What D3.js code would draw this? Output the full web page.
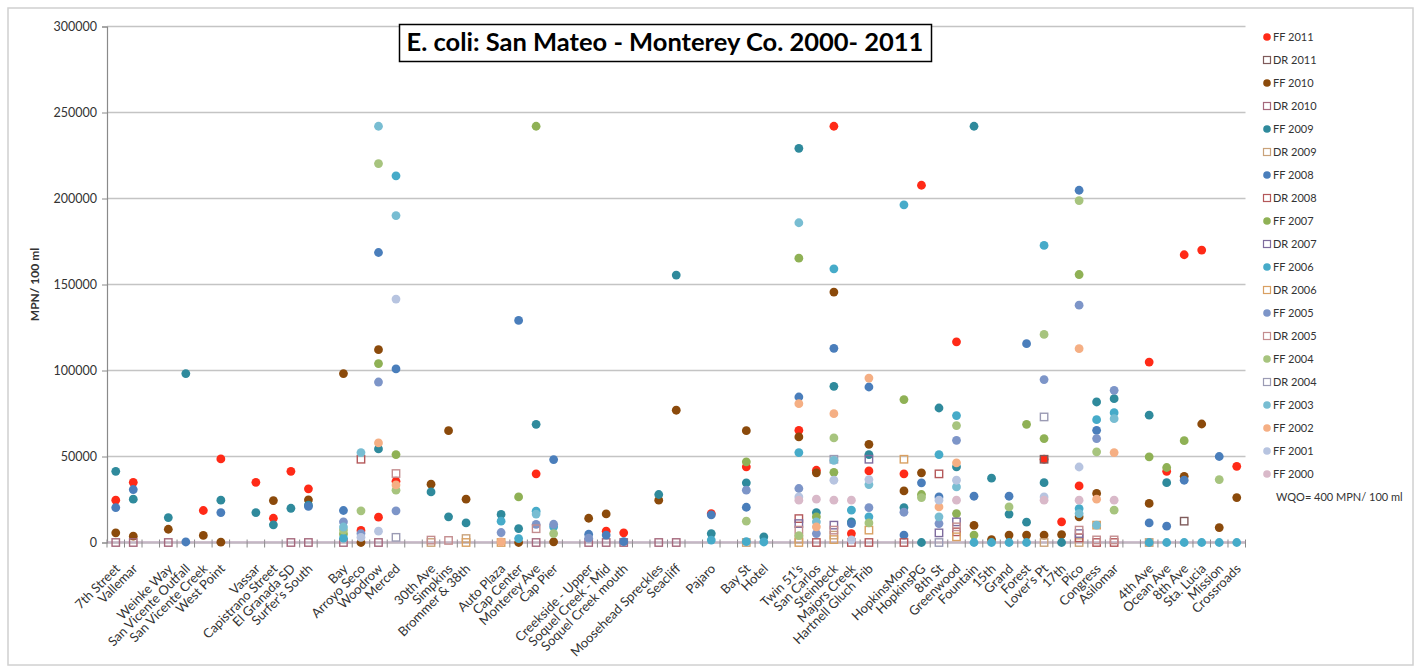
<!DOCTYPE html>
<html><head><meta charset="utf-8">
<script src="https://cdn.jsdelivr.net/npm/d3@7/dist/d3.min.js"></script>
<style>
body{margin:0;background:#fff}
svg text{font-family:Lato,"Open Sans",sans-serif;fill:#333}
</style>
</head><body>
<svg id="chart" width="1424" height="667"></svg>
<script>
const categories = ["7th Street","Vallemar","","Weinke Way","San Vicente Outfall","San Vicente Creek","West Point","",
"Vassar","Capistrano Street","El Granada SD","Surfer’s South","","Bay","Arroyo Seco","Woodrow","Merced","",
"30th Ave","Simpkins","Brommer & 38th","","Auto Plaza","Cap Center","Monterey Ave","Cap Pier","",
"Creekside - Upper","Soquel Creek - Mid","Soquel Creek mouth","","Moosehead Spreckles","Seacliff","","Pajaro","",
"Bay St","Hotel","","Twin 51’s","San Carlos","Steinbeck","Majors Creek","Hartnell Gluch Trib","",
"HopkinsMon","HopkinsPG","8th St","Greenwood","Fountain","15th","Grand","Forest","Lover’s Pt","17th","Pico","Congress","Asilomar","",
"4th Ave","Ocean Ave","8th Ave","Sta. Lucia","Mission","Crossroads"];

const yTicks = [0,50000,100000,150000,200000,250000,300000];
const title = "E. coli: San Mateo - Monterey Co. 2000- 2011";
const yLabel = "MPN/ 100 ml";
const wqoLabel = "WQO= 400 MPN/ 100 ml";
const wqoValue = 400;

const ff2011 = [["7th Street",24600],["Vallemar",35000],["San Vicente Creek",18600],["West Point",48600],["Vassar",35000],["Capistrano Street",14100],["El Granada SD",41400],["Surfer’s South",31200],["Arroyo Seco",7000],["Woodrow",14700],["Merced",35600],["Monterey Ave",39900],["Soquel Creek - Mid",6600],["Soquel Creek mouth",5600],["Pajaro",16800],["Bay St",44000],["Twin 51’s",65200],["San Carlos",42000],["Steinbeck",242000],["Majors Creek",5200],["Hartnell Gluch Trib",41600],["HopkinsMon",39900],["HopkinsPG",207700],["Greenwood",116700],["Lover’s Pt",48400],["17th",12000],["Pico",32900],["4th Ave",104900],["Ocean Ave",41400],["8th Ave",167300],["Sta. Lucia",170000],["Crossroads",44300]];
const dr2011 = [["Lover’s Pt",48400],["8th Ave",12400]];
const ff2010 = [["7th Street",5600],["Vallemar",3700],["Weinke Way",7700],["San Vicente Creek",4100],["West Point",200],["Capistrano Street",24400],["Surfer’s South",24800],["Bay",98200],["Arroyo Seco",0],["Woodrow",112100],["30th Ave",33900],["Simpkins",65000],["Brommer & 38th",25200],["Cap Center",0],["Cap Pier",400],["Creekside - Upper",14100],["Soquel Creek - Mid",16600],["Moosehead Spreckles",24600],["Seacliff",76900],["Bay St",65000],["Twin 51’s",61400],["San Carlos",40500],["Steinbeck",145600],["Hartnell Gluch Trib",57100],["HopkinsMon",30000],["HopkinsPG",40500],["Fountain",9900],["15th",1700],["Grand",4300],["Forest",4300],["Lover’s Pt",4300],["17th",4600],["Pico",14900],["Congress",28500],["4th Ave",22700],["8th Ave",38500],["Sta. Lucia",68900],["Mission",8700],["Crossroads",26100]];
const dr2010 = [["7th Street",0],["Vallemar",0],["Weinke Way",0],["El Granada SD",0],["Surfer’s South",0],["Bay",0],["Woodrow",0],["Creekside - Upper",0],["Soquel Creek - Mid",0],["Soquel Creek mouth",0],["Moosehead Spreckles",0],["Seacliff",0],["Monterey Ave",0]];
const ff2009 = [["7th Street",41400],["Vallemar",25200],["Weinke Way",14500],["San Vicente Outfall",98200],["West Point",24600],["Vassar",17400],["Capistrano Street",10300],["El Granada SD",19900],["Surfer’s South",21700],["Woodrow",54400],["30th Ave",29400],["Simpkins",14900],["Brommer & 38th",11400],["Auto Plaza",16300],["Cap Center",8100],["Monterey Ave",68700],["Moosehead Spreckles",27900],["Seacliff",155500],["Pajaro",5200],["Bay St",34700],["Hotel",3300],["Twin 51’s",229200],["San Carlos",17400],["Steinbeck",90800],["Majors Creek",12000],["Hartnell Gluch Trib",51100],["HopkinsMon",20300],["HopkinsPG",0],["8th St",78200],["Greenwood",44000],["Fountain",242000],["15th",37400],["Grand",16500],["Forest",11800],["Lover’s Pt",34800],["17th",0],["Congress",81700],["Asilomar",83600],["4th Ave",74000],["Ocean Ave",34800]];
const dr2009 = [["30th Ave",0],["Brommer & 38th",2300],["Bay St",0],["Twin 51’s",2000],["Steinbeck",4300],["Lover’s Pt",0],["Pico",0],["4th Ave",0]];
const ff2008 = [["7th Street",20300],["Vallemar",30800],["San Vicente Outfall",300],["West Point",17400],["Surfer’s South",21000],["Bay",18600],["Woodrow",168600],["Merced",100900],["Cap Center",129100],["Cap Pier",48200],["Creekside - Upper",4800],["Soquel Creek - Mid",4300],["Soquel Creek mouth",500],["Pajaro",16100],["Bay St",20500],["Twin 51’s",84600],["Steinbeck",112900],["Majors Creek",11000],["Hartnell Gluch Trib",90400],["HopkinsMon",4300],["HopkinsPG",34700],["8th St",26500],["Fountain",26900],["Grand",26900],["Forest",115600],["Pico",204800],["Congress",65200],["4th Ave",11400],["Ocean Ave",9500],["8th Ave",36200],["Mission",50000]];
const dr2008 = [["Arroyo Seco",48400],["San Carlos",0],["Majors Creek",0],["Hartnell Gluch Trib",0],["Twin 51’s",13900],["HopkinsMon",0],["8th St",39900],["Greenwood",6200],["Pico",2700],["Congress",0],["Asilomar",0]];
const ff2007 = [["Bay",5000],["Woodrow",104000],["Merced",51100],["Cap Center",26500],["Monterey Ave",242000],["Bay St",46900],["Twin 51’s",165300],["San Carlos",14900],["Steinbeck",40800],["HopkinsMon",83100],["HopkinsPG",27900],["Greenwood",16800],["Fountain",4300],["Forest",68700],["Lover’s Pt",60400],["Pico",155800],["4th Ave",49800],["Ocean Ave",43600],["8th Ave",59200]];
const dr2007 = [["Twin 51’s",11000],["Steinbeck",10100],["Hartnell Gluch Trib",48400],["8th St",5600],["Greenwood",12000],["Pico",5200]];
const ff2006 = [["Bay",2500],["Merced",213200],["Auto Plaza",12400],["Cap Center",2300],["Monterey Ave",18200],["Cap Pier",9100],["Pajaro",1400],["Bay St",500],["Hotel",300],["Twin 51’s",52300],["Steinbeck",159100],["Majors Creek",18800],["Hartnell Gluch Trib",14900],["HopkinsMon",196300],["8th St",51100],["Greenwood",73800],["Fountain",0],["15th",0],["Grand",0],["Forest",0],["Lover’s Pt",172700],["Pico",19700],["Congress",71400],["Asilomar",75500],["4th Ave",0],["Ocean Ave",0],["8th Ave",0],["Sta. Lucia",0],["Mission",0],["Crossroads",0]];
const dr2006 = [["Brommer & 38th",0],["Auto Plaza",0],["Twin 51’s",0],["Steinbeck",1700],["Hartnell Gluch Trib",7200],["HopkinsMon",48400],["Greenwood",3300],["Congress",10100]];
const ff2005 = [["Bay",12000],["Arroyo Seco",5200],["Woodrow",93300],["Merced",18400],["Auto Plaza",5800],["Monterey Ave",10500],["Cap Pier",10600],["Creekside - Upper",2500],["Bay St",30400],["Twin 51’s",31400],["San Carlos",5200],["Hartnell Gluch Trib",20300],["HopkinsMon",17600],["8th St",11000],["Greenwood",59400],["Lover’s Pt",94700],["Pico",138000],["Congress",60400],["Asilomar",88500]];
const dr2005 = [["Merced",40100],["30th Ave",1400],["Simpkins",1200],["Monterey Ave",8000],["Twin 51’s",7200],["Steinbeck",7200],["Greenwood",9100],["Pico",7200],["Congress",1500],["Asilomar",1500]];
const ff2004 = [["Bay",7200],["Arroyo Seco",18400],["Woodrow",220300],["Merced",30400],["Cap Pier",5200],["Bay St",12400],["Twin 51’s",4000],["Steinbeck",60800],["Hartnell Gluch Trib",11400],["HopkinsPG",26100],["Greenwood",68000],["Grand",20700],["Lover’s Pt",121000],["Pico",198800],["Congress",52700],["Asilomar",18800],["Mission",36600]];
const dr2004 = [["Merced",3000],["Steinbeck",48400],["8th St",0],["Lover’s Pt",73000]];
const ff2003 = [["Bay",9000],["Arroyo Seco",52300],["Woodrow",242000],["Merced",190100],["Monterey Ave",16500],["Twin 51’s",185900],["San Carlos",12000],["Steinbeck",47800],["Hartnell Gluch Trib",33700],["8th St",14900],["Greenwood",32300],["Pico",16800],["Congress",10100],["Asilomar",72000]];
const ff2002 = [["Woodrow",57900],["Merced",33500],["Auto Plaza",400],["Twin 51’s",80700],["San Carlos",9100],["Steinbeck",74900],["Hartnell Gluch Trib",95600],["8th St",20700],["Greenwood",46300],["Pico",112700],["Congress",25200],["Asilomar",52300]];
const ff2001 = [["Arroyo Seco",3000],["Woodrow",6600],["Merced",141500],["Twin 51’s",26500],["Steinbeck",36200],["Majors Creek",1500],["Hartnell Gluch Trib",36600],["8th St",24600],["Greenwood",36200],["Lover’s Pt",26500],["Pico",43900]];
const ff2000 = [["Twin 51’s",24600],["San Carlos",25200],["Steinbeck",24600],["Majors Creek",24600],["Greenwood",24600],["Lover’s Pt",24600],["Pico",24600],["Asilomar",24600]];

const seriesNames = ["FF 2011","DR 2011","FF 2010","DR 2010","FF 2009","DR 2009","FF 2008","DR 2008","FF 2007","DR 2007","FF 2006","DR 2006","FF 2005","DR 2005","FF 2004","DR 2004","FF 2003","FF 2002","FF 2001","FF 2000"];
const seriesValues = [ff2011,dr2011,ff2010,dr2010,ff2009,dr2009,ff2008,dr2008,ff2007,dr2007,ff2006,dr2006,ff2005,dr2005,ff2004,dr2004,ff2003,ff2002,ff2001,ff2000];
const seriesColors = ["#FF2A17","#7F5B5B","#8B4A0B","#A5687C","#2F8A9C","#C9A27A","#4A7EBB","#B4585A","#8FB155","#7E6C9E","#46ABC9","#D9A062","#7D95C8","#C48D8F","#A7C47E","#9B9BB4","#78BDD2","#F5AF84","#B7C4E0","#D9B9C9"];

const svg = d3.select("#chart");
const L = 107, R = 1245.5, T = 26.5, B = 542.5;

// outer frame
svg.append("rect").attr("x",8).attr("y",8).attr("width",1405).attr("height",657)
  .attr("fill","#fff").attr("stroke","#D0D0D0").attr("stroke-width",1.5);

const x = d3.scaleBand().domain(d3.range(categories.length)).range([L,R]);
const y = d3.scaleLinear().domain([0,300000]).range([B,T]);
const cx = i => x(i) + x.bandwidth()/2;

// gridlines
svg.append("g").selectAll("line").data(yTicks.filter(d=>d>0)).join("line")
  .attr("x1",L).attr("x2",R).attr("y1",d=>y(d)).attr("y2",d=>y(d))
  .attr("stroke","#C4C4C4").attr("stroke-width",1.5);

// y axis
const gy = svg.append("g").attr("transform",`translate(${L},0)`)
  .call(d3.axisLeft(y).tickValues(yTicks).tickFormat(d3.format("d")).tickSize(5).tickPadding(5));
gy.select(".domain").attr("stroke","#8A8A8A").attr("stroke-width",1.2);
gy.selectAll(".tick line").attr("stroke","#8A8A8A");
gy.selectAll(".tick text").attr("font-size","12.5px").attr("fill","#333");

// x axis
const gx = svg.append("g").attr("transform",`translate(0,${B})`)
  .call(d3.axisBottom(x).tickFormat(i=>categories[i]).tickSize(0).tickPadding(0));
gx.select(".domain").attr("stroke","#9A8A9A").attr("stroke-width",1.2);
gx.selectAll(".tick text")
  .attr("font-size","13px").attr("fill","#333")
  .attr("text-anchor","end").attr("dy",null).attr("y",null)
  .attr("transform","translate(5,27) rotate(-45)");
// category boundary ticks
svg.append("g").selectAll("line").data(d3.range(categories.length+1)).join("line")
  .attr("x1",i=>L+i*x.bandwidth()).attr("x2",i=>L+i*x.bandwidth())
  .attr("y1",B-3).attr("y2",B+5).attr("stroke","#8A8A8A").attr("stroke-width",1);

// WQO line
svg.append("line").attr("x1",L).attr("x2",R).attr("y1",y(wqoValue)).attr("y2",y(wqoValue))
  .attr("stroke","#A890A8").attr("stroke-width",0.8);

// points
const ci = name => categories.indexOf(name);
seriesValues.forEach((vals,s)=>{
  const isDR = seriesNames[s].startsWith("DR");
  const g = svg.append("g");
  if(isDR){
    g.selectAll("rect").data(vals).join("rect")
      .attr("x",d=>cx(ci(d[0]))-3.7).attr("y",d=>y(d[1])-3.7)
      .attr("width",7.4).attr("height",7.4)
      .attr("fill","none").attr("stroke",seriesColors[s]).attr("stroke-width",1.4);
  } else {
    g.selectAll("circle").data(vals).join("circle")
      .attr("cx",d=>cx(ci(d[0]))).attr("cy",d=>y(d[1])).attr("r",4.4)
      .attr("fill",seriesColors[s]);
  }
});

// y label
svg.append("text").attr("transform",`translate(39,${(T+B)/2}) rotate(-90)`)
  .attr("text-anchor","middle").attr("font-size","12px").attr("font-weight","bold")
  .attr("fill","#222").text(yLabel);

// title
const tt = svg.append("text").attr("x",665).attr("y",51).attr("text-anchor","middle")
  .attr("font-size","22px").attr("font-weight","bold").style("fill","#000").text(title);
const tw = tt.node().getComputedTextLength();
tt.attr("font-size",(22*517/tw).toFixed(2)+"px");
svg.insert("rect", () => tt.node()).attr("x",399.5).attr("y",24.5).attr("width",532).attr("height",37)
  .attr("fill","#fff").attr("stroke","#000").attr("stroke-width",1.5);

// legend
const lg = svg.append("g");
seriesNames.forEach((n,s)=>{
  const yy = 37 + s*23;
  if(n.startsWith("DR")){
    lg.append("rect").attr("x",1263.5).attr("y",yy-3.5).attr("width",7).attr("height",7)
      .attr("fill","none").attr("stroke",seriesColors[s]).attr("stroke-width",1.2);
  } else {
    lg.append("circle").attr("cx",1267).attr("cy",yy).attr("r",3.8).attr("fill",seriesColors[s]);
  }
  lg.append("text").attr("x",1273).attr("y",yy+4).attr("font-size","11px").attr("fill","#3a3a3a").text(n);
});
lg.append("text").attr("x",1276).attr("y",37+20*23+4).attr("font-size","11px").attr("fill","#3a3a3a").text(wqoLabel);
</script>
</body></html>
